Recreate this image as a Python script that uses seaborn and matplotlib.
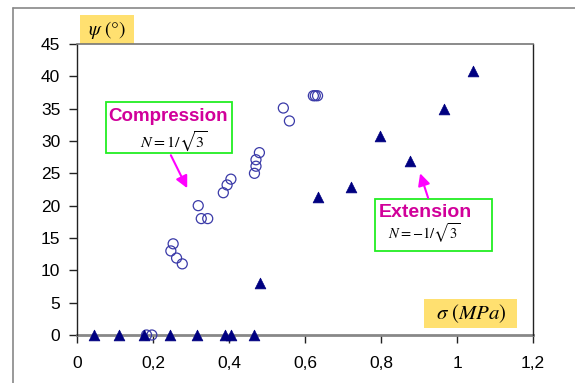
import numpy as np
import pandas as pd
import matplotlib
matplotlib.use("Agg")
import matplotlib.pyplot as plt
from matplotlib.patches import Rectangle
from matplotlib.lines import Line2D
import seaborn as sns

# ---- data ----
comp_sigma = [0.183, 0.197, 0.247, 0.253, 0.262, 0.277, 0.319, 0.327, 0.344,
              0.385, 0.395, 0.405, 0.467, 0.471, 0.471, 0.480, 0.543, 0.559,
              0.622, 0.627, 0.633]
comp_psi = [0.0, 0.0, 13.0, 14.1, 11.9, 11.0, 20.0, 18.0, 18.0,
            22.0, 23.2, 24.1, 25.0, 26.1, 27.1, 28.2, 35.1, 33.1,
            37.0, 37.0, 37.0]
ext_sigma = [0.045, 0.110, 0.175, 0.245, 0.315, 0.390, 0.405, 0.467, 0.481,
             0.635, 0.720, 0.798, 0.877, 0.967, 1.043]
ext_psi = [0, 0, 0, 0, 0, 0, 0, 0, 8.0, 21.3, 22.9, 30.8, 26.9, 34.9, 40.8]
x_ticks = [0, 0.2, 0.4, 0.6, 0.8, 1.0, 1.2]
x_tick_labels = ["0", "0,2", "0,4", "0,6", "0,8", "1", "1,2"]
y_ticks = [0, 5, 10, 15, 20, 25, 30, 35, 40, 45]

comp = pd.DataFrame({"sigma": comp_sigma, "psi": comp_psi})
ext = pd.DataFrame({"sigma": ext_sigma, "psi": ext_psi})

sns.set_theme(style="white")
plt.rcParams["font.family"] = ["Liberation Sans", "DejaVu Sans"]
plt.rcParams["mathtext.fontset"] = "stix"

fig = plt.figure(figsize=(5.75, 3.83), dpi=100)
fig.patch.set_facecolor("white")
ax = fig.add_axes([77/575, 1-335/383, 456/575, 291/383])

sns.scatterplot(data=comp, x="sigma", y="psi", ax=ax, marker="o", s=52,
                facecolor="none", edgecolor="#3a3aa8", linewidth=0.9,
                clip_on=False, zorder=3)
sns.scatterplot(data=ext, x="sigma", y="psi", ax=ax, marker="^", s=60,
                color="#000080", edgecolor="#000080", linewidth=0.5,
                clip_on=False, zorder=4)

ax.set_xlim(0, 1.2)
ax.set_ylim(0, 45)
ax.set_xticks(x_ticks)
ax.set_xticklabels(x_tick_labels)
ax.set_yticks(y_ticks)
ax.set_xlabel("")
ax.set_ylabel("")
ax.tick_params(axis="both", which="major", direction="out", length=6, width=1,
               color="#222222", labelsize=12.5, labelcolor="black")
ax.tick_params(axis="x", bottom=True, pad=9)
ax.tick_params(axis="y", left=True, pad=6)

for side in ["left", "right"]:
    ax.spines[side].set_color("#222222")
    ax.spines[side].set_linewidth(1.0)
ax.spines["top"].set_color("#777777")
ax.spines["top"].set_linewidth(1.2)
ax.spines["bottom"].set_color("#888888")
ax.spines["bottom"].set_linewidth(2.0)
ax.spines["bottom"].set_zorder(2)

# outer chart frame
fig.add_artist(Line2D([13/575, 13/575], [0, 1-8/383], color="#888888", lw=1.2))
fig.add_artist(Line2D([13/575, 1], [1-8/383, 1-8/383], color="#888888", lw=1.2))

# axis label boxes
ax.add_patch(Rectangle((0.0066, 1.0), 0.118, 0.0997, transform=ax.transAxes,
                       facecolor="#FFE070", edgecolor="none", clip_on=False, zorder=1))
ax.text(0.066, 1.048, r"$\psi\ \mathrm{(°)}$", transform=ax.transAxes,
        ha="center", va="center", fontsize=14, color="black")
ax.add_patch(Rectangle((0.761, 0.023), 0.205, 0.0997, transform=ax.transAxes,
                       facecolor="#FFE070", edgecolor="none", clip_on=False, zorder=1))
ax.text(0.864, 0.073, r"$\sigma\ (MPa)$", transform=ax.transAxes,
        ha="center", va="center", fontsize=15, color="black")

# annotation boxes
ax.add_patch(Rectangle((0.0636, 0.625), 0.2764, 0.176, transform=ax.transAxes,
                       facecolor="white", edgecolor="#22EE22", lw=1.3, zorder=5))
ax.text(0.199, 0.752, "Compression", transform=ax.transAxes, ha="center",
        va="center", fontsize=13.5, fontweight="bold", color="#D1009A", zorder=6)
ax.text(0.213, 0.662, r"$N=1/\sqrt{3}$", transform=ax.transAxes, ha="center",
        va="center", fontsize=11.5, color="black", zorder=6)

ax.add_patch(Rectangle((0.654, 0.290), 0.255, 0.177, transform=ax.transAxes,
                       facecolor="white", edgecolor="#22EE22", lw=1.3, zorder=5))
ax.text(0.763, 0.420, "Extension", transform=ax.transAxes, ha="center",
        va="center", fontsize=14, fontweight="bold", color="#D1009A", zorder=6)
ax.text(0.762, 0.350, r"$N=-1/\sqrt{3}$", transform=ax.transAxes, ha="center",
        va="center", fontsize=10.5, color="black", zorder=6)

arrow_kw = dict(arrowstyle="-|>,head_length=0.6,head_width=0.3", color="#FF00FF",
                lw=1.5, shrinkA=0, shrinkB=0)
ax.annotate("", xy=(0.290, 22.7), xytext=(0.247, 27.8), arrowprops=arrow_kw, zorder=6)
ax.annotate("", xy=(0.903, 25.0), xytext=(0.924, 21.2), arrowprops=arrow_kw, zorder=6)

fig.savefig("out.png", dpi=100)
